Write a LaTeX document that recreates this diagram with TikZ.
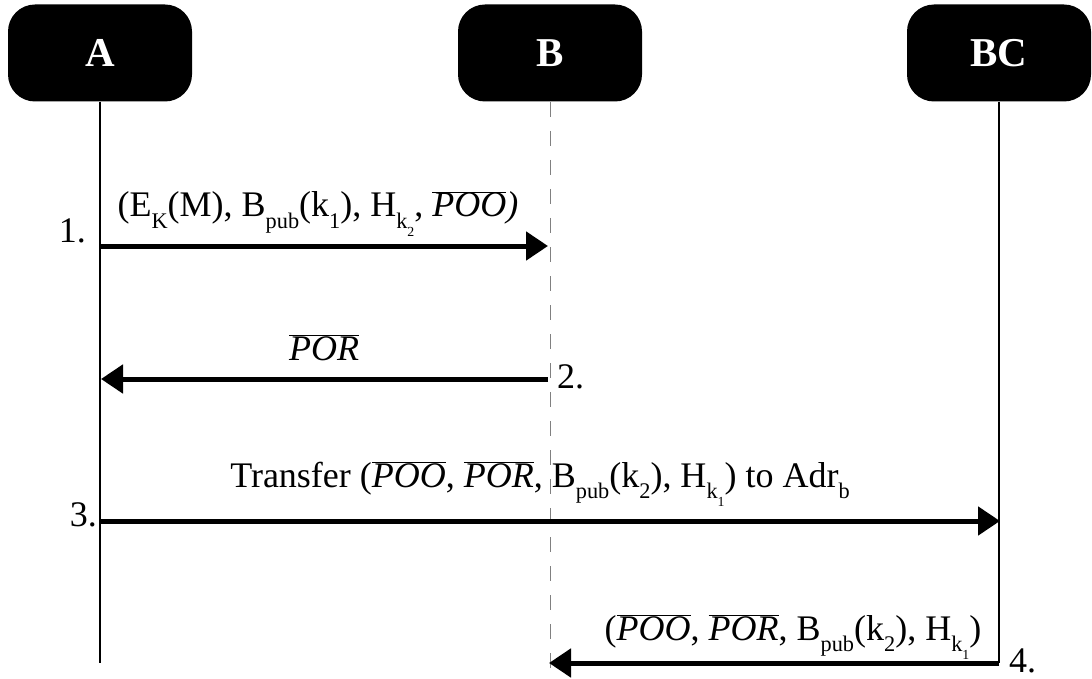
\documentclass[tikz,border=0pt]{standalone}
\usepackage{fontspec}
\setmainfont{Liberation Serif}
\usetikzlibrary{arrows.meta}

\newcommand{\lowsub}[1]{\raisebox{-.33em}{\scalebox{.62}{#1}}}
\newcommand{\barit}[1]{$\overline{\mbox{\itshape #1}}$}

\tikzset{
  party/.style={fill=black, rounded corners=27pt, minimum width=184pt, minimum height=97pt,
    text=white, font=\fontsize{41}{48}\selectfont\bfseries},
  life/.style={line width=1.3pt},
  lifedash/.style={line width=1pt, black!50, dash pattern=on 15pt off 14pt},
  msg/.style={line width=5pt, -{Triangle[length=22pt,width=28pt]}},
  lbl/.style={font=\fontsize{36}{42}\selectfont, inner sep=0pt, anchor=base},
}

\begin{document}
\begin{tikzpicture}[x=1pt,y=-1pt]
\useasboundingbox (0,0) rectangle (1092,679);

% parties
\node[party] (A) at (100,53) {A};
\node[party] (B) at (550,53) {B};
\node[party] (BC) at (999,53) {BC};

% lifelines
\coordinate (Aend) at (100,663);
\coordinate (Btop) at (550,102);
\coordinate (Bend) at (550,676);
\coordinate (BCend) at (999,663);
\draw[life] (A.south) -- (Aend);
\draw[lifedash] (Btop) -- (Bend);
\draw[life] (BC.south) -- (BCend);

% step 1
\coordinate (a1) at (100,246);
\coordinate (b1) at (548,246);
\draw[msg] (a1) -- (b1);
\node[lbl, anchor=base east] (n1) at (86,242) {1.};
\node[lbl] (m1) at (318,217) {(E\lowsub{K}(M), B\lowsub{pub}(k\lowsub{1}), H\lowsub{k\lowsub{2}}, \barit{POO}\textit{)}};

% step 2
\coordinate (b2) at (548,379);
\coordinate (a2) at (101,379);
\draw[msg] (b2) -- (a2);
\node[lbl, anchor=base west] (n2) at (557,388) {2.};
\node[lbl] (m2) at (324,360) {\barit{POR}};

% step 3
\coordinate (a3) at (100,521);
\coordinate (c3) at (1000,521);
\draw[msg] (a3) -- (c3);
\node[lbl, anchor=base east] (n3) at (97,526) {3.};
\node[lbl] (m3) at (540,487) {Transfer (\barit{POO}, \barit{POR}, B\lowsub{pub}(k\lowsub{2}), H\lowsub{k\lowsub{1}}) to Adr\lowsub{b}};

% step 4
\coordinate (c4) at (999,663);
\coordinate (b4) at (549,663);
\draw[msg] (c4) -- (b4);
\node[lbl, anchor=base west] (n4) at (1009,672) {4.};
\node[lbl] (m4) at (793,640) {(\barit{POO}, \barit{POR}, B\lowsub{pub}(k\lowsub{2}), H\lowsub{k\lowsub{1}})};

\end{tikzpicture}
\end{document}
